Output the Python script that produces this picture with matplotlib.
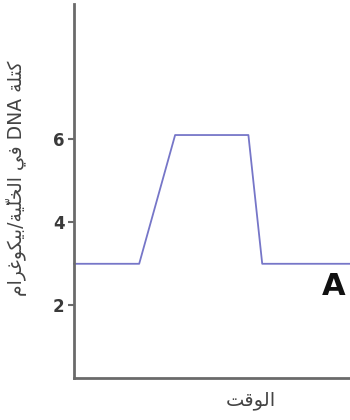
import matplotlib
matplotlib.use("Agg")
import matplotlib.pyplot as plt

# Data
time_pts = [0.0, 2.35, 3.65, 6.3, 6.8, 10.0]
dna_mass = [3.0, 3.0, 6.1, 6.1, 3.0, 3.0]
y_ticks = [2, 4, 6]
y_tick_labels = ["2", "4", "6"]

# Arabic text in presentation forms, visual (left-to-right) order
# logical: "كتلة DNA في الخليّة/بيكوغرام"
w_kutla = "\uFEDB\uFE98\uFEE0\uFE94"          # كتلة
w_fi = "\uFED3\uFEF2"                            # في
w_khaliya = "\uFE8D\uFEDF\uFEA8\uFEE0\uFEF4\u0651\uFE94"  # الخليّة
w_pico = "\uFE91\uFEF4\uFEDC\uFEEE\uFECF\uFEAE\uFE8D\uFEE1"  # بيكوغرام
w_time = "\uFE8D\uFEDF\uFEEE\uFED7\uFE96"        # الوقت

def vis(word):
    chars = list(word)
    groups = []
    i = 0
    while i < len(chars):
        g = chars[i]
        if i + 1 < len(chars) and chars[i + 1] == "\u0651":
            g = chars[i] + chars[i + 1]
            i += 1
        groups.append(g)
        i += 1
    return "".join(reversed(groups))

ylabel_text = vis(w_pico) + "/" + vis(w_khaliya) + " " + vis(w_fi) + " DNA " + vis(w_kutla)
xlabel_text = vis(w_time)

fig = plt.figure(figsize=(3.5, 4.2), dpi=100)
ax = fig.add_axes([0.212, 0.1, 0.79, 0.89])

ax.plot(time_pts, dna_mass, color="#7676c8", linewidth=1.3, clip_on=False)

ax.set_xlim(0, 10)
ax.set_ylim(0.25, 9.25)
ax.set_yticks(y_ticks)
ax.set_yticklabels(y_tick_labels)
ax.set_xticks([])

for s in ["top", "right"]:
    ax.spines[s].set_visible(False)
for s in ["left", "bottom"]:
    ax.spines[s].set_color("#6a6a6a")
    ax.spines[s].set_linewidth(2)

ax.tick_params(axis="y", direction="out", length=4, width=1.5, color="#6a6a6a",
               labelsize=12, labelcolor="#3a3a3a", pad=3)
for lab in ax.get_yticklabels():
    lab.set_fontweight("bold")

ax.set_ylabel(ylabel_text, fontsize=13.5, color="#444444", family=["DejaVu Sans"])
ax.yaxis.set_label_coords(-0.17, 0.535)
ax.set_xlabel(xlabel_text, fontsize=14, color="#444444", family=["DejaVu Sans"])
ax.xaxis.set_label_coords(0.64, -0.035)

ax.text(9.38, 2.45, "A", fontsize=22, fontweight="bold", color="#111111",
        ha="center", va="center")

fig.savefig("out.png", dpi=100)
